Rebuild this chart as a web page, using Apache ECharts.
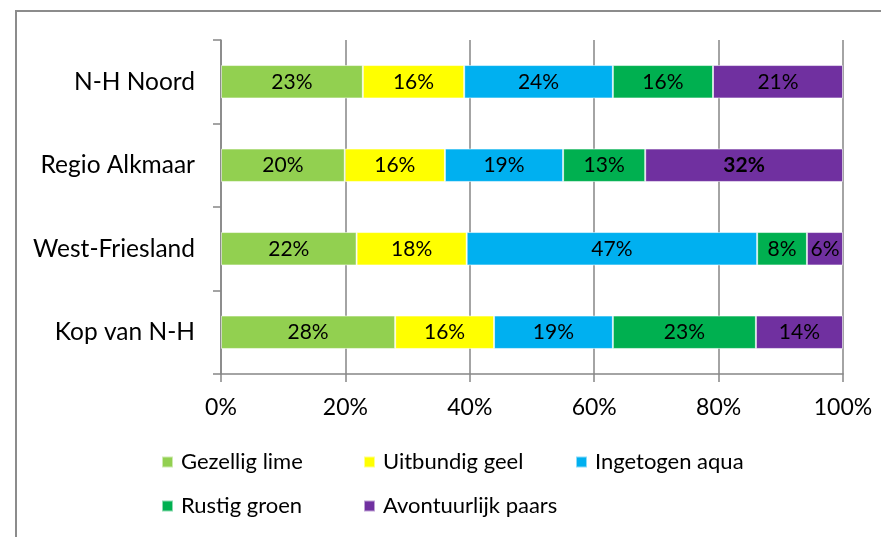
<!DOCTYPE html>
<html>
<head>
<meta charset="utf-8">
<script src="https://cdn.jsdelivr.net/npm/echarts@6/dist/echarts.min.js"></script>
<style>
html,body{margin:0;padding:0;background:#fff;}
#chart{width:881px;height:537px;}
</style>
</head>
<body>
<div id="chart"></div>
<script>
// Categories, top to bottom
var categories = ['N-H Noord', 'Regio Alkmaar', 'West-Friesland', 'Kop van N-H'];
var seriesNames = ['Gezellig lime', 'Uitbundig geel', 'Ingetogen aqua', 'Rustig groen', 'Avontuurlijk paars'];
// shares (%), per category in the order above
var gezelligLime      = [22.8, 19.9, 21.8, 28.0];
var uitbundigGeel     = [16.3, 16.1, 17.7, 15.9];
var ingetogenAqua     = [23.9, 19.0, 46.7, 19.1];
var rustigGroen       = [16.1, 13.2, 8.0, 23.0];
var avontuurlijkPaars = [20.9, 31.8, 5.8, 14.0];
var xTicks = [0, 20, 40, 60, 80, 100];

var colors = ['#92D050', '#FFFF00', '#00B0F0', '#00B050', '#7030A0'];
var allData = [gezelligLime, uitbundigGeel, ingetogenAqua, rustigGroen, avontuurlijkPaars];
var FONT = 'Lato';

var series = allData.map(function (arr, si) {
  return {
    name: seriesNames[si],
    type: 'bar',
    stack: 'total',
    barWidth: '40%',
    itemStyle: { color: colors[si], borderColor: 'rgba(255,255,255,0.55)', borderWidth: 1 },
    label: {
      show: true,
      position: 'inside',
      color: '#000',
      fontFamily: FONT,
      fontSize: 21,
      formatter: function (p) { return Math.round(p.value) + '%'; }
    },
    data: arr.map(function (v, ci) {
      if (si === 4 && ci === 1) {
        return { value: v, label: { fontWeight: 'bold' } };
      }
      return v;
    })
  };
});

var legendPos = [[161, 451], [363, 451], [575, 451], [161, 495], [363, 495]];
var legends = seriesNames.map(function (n, i) {
  return {
    data: [n],
    left: legendPos[i][0],
    top: legendPos[i][1],
    orient: 'horizontal',
    icon: 'rect',
    itemWidth: 11,
    itemHeight: 11,
    padding: 0,
    selectedMode: false,
    textStyle: { fontFamily: FONT, fontSize: 22, color: '#000', padding: [0, 0, 0, 3] }
  };
});

var chart = echarts.init(document.getElementById('chart'), null, { renderer: 'canvas' });
chart.setOption({
  animation: false,
  backgroundColor: '#fff',
  color: colors,
  grid: { left: 221, right: 38, top: 40, height: 334, containLabel: false },
  legend: legends,
  xAxis: {
    type: 'value',
    min: 0,
    max: 100,
    interval: 20,
    axisLine: { show: true, lineStyle: { color: '#868686', width: 1.5 } },
    axisTick: { show: true, length: 8, lineStyle: { color: '#868686', width: 1.5 } },
    splitLine: { show: true, lineStyle: { color: '#868686', width: 1.5 } },
    axisLabel: {
      margin: 22,
      fontFamily: FONT,
      fontSize: 23,
      color: '#000',
      formatter: function (v) { return xTicks.indexOf(v) >= 0 ? v + '%' : ''; }
    }
  },
  yAxis: {
    type: 'category',
    data: categories,
    inverse: true,
    axisLine: { show: true, lineStyle: { color: '#868686', width: 1.5 } },
    axisTick: { show: true, length: 8, lineStyle: { color: '#868686', width: 1.5 } },
    axisLabel: { margin: 26, fontFamily: FONT, fontSize: 24.5, color: '#000' }
  },
  graphic: [{
    type: 'polyline',
    shape: { points: [[16, 537], [16, 11], [881, 11]] },
    style: { stroke: '#8c8c8c', lineWidth: 2, fill: null }
  }],
  series: series
});
</script>
</body>
</html>
